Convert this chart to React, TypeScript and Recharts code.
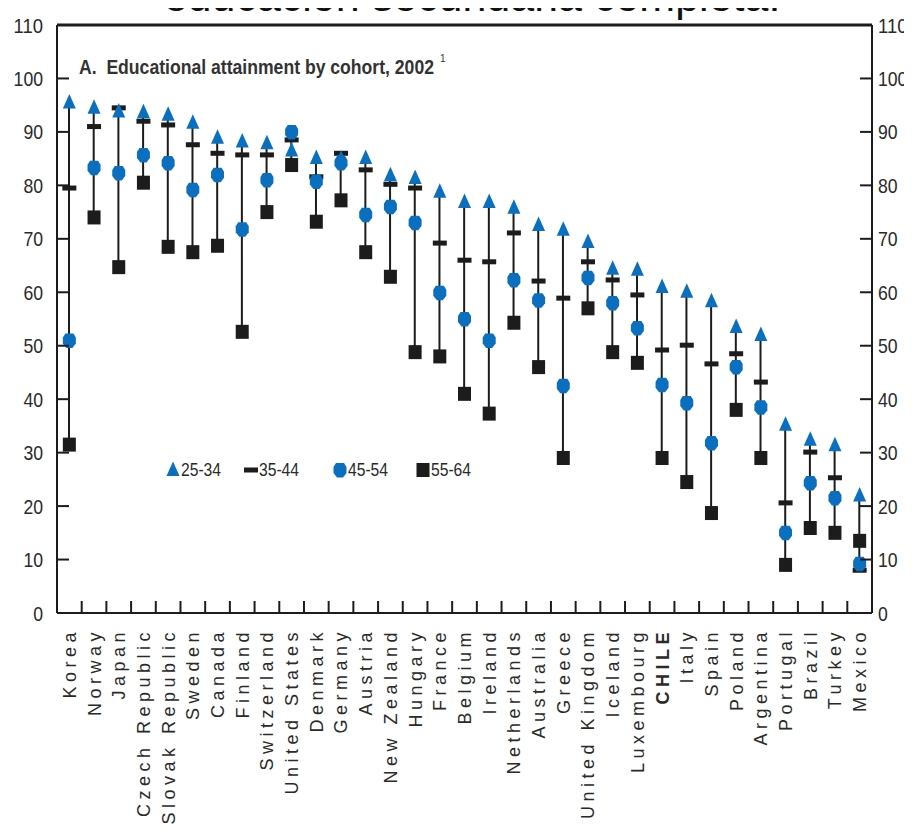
import {
  ComposedChart,
  XAxis,
  YAxis,
  Bar,
  Scatter,
  ReferenceLine,
  Customized,
} from "recharts";

const countries = [
  "Korea", "Norway", "Japan", "Czech Republic", "Slovak Republic", "Sweden",
  "Canada", "Finland", "Switzerland", "United States", "Denmark", "Germany",
  "Austria", "New Zealand", "Hungary", "France", "Belgium", "Ireland",
  "Netherlands", "Australia", "Greece", "United Kingdom", "Iceland",
  "Luxembourg", "CHILE", "Italy", "Spain", "Poland", "Argentina", "Portugal",
  "Brazil", "Turkey", "Mexico",
];
// 25-34
const s25 = [
  95.5, 94.5, 93.8, 93.7, 93.2, 91.7, 88.9, 88.2, 87.9, 86.5, 85.1, 85,
  85.1, 81.9, 81.4, 78.8, 76.9, 76.9, 75.8, 72.6, 71.7, 69.4, 64.4, 64.2,
  61, 60.1, 58.3, 53.5, 52, 35.2, 32.4, 31.4, 22,
];
// 35-44
const s35 = [
  79.5, 91, 94.5, 92, 91.3, 87.6, 86, 85.7, 85.7, 88.5, 81.6, 86, 82.9,
  80.2, 79.5, 69.2, 66, 65.7, 71.1, 62.1, 58.9, 65.7, 62.3, 59.5, 49.2,
  50.1, 46.6, 48.5, 43.2, 20.6, 30.1, 25.3, 8,
];
// 45-54
const s45 = [
  51, 83.3, 82.3, 85.7, 84.2, 79.2, 82, 71.8, 81, 90, 80.7, 84.2, 74.5, 76,
  73, 59.9, 55, 51, 62.3, 58.5, 42.5, 62.7, 58, 53.3, 42.7, 39.3, 31.8, 46,
  38.5, 15, 24.3, 21.5, 9.2,
];
// 55-64
const s55 = [
  31.5, 74, 64.7, 80.5, 68.5, 67.5, 68.7, 52.6, 75, 83.8, 73.2, 77.2, 67.5,
  62.9, 48.8, 48, 41, 37.3, 54.3, 46, 29, 57, 48.8, 46.8, 29, 24.5, 18.7,
  38, 29, 9, 15.9, 15, 13.5,
];
const yTicks = [0, 10, 20, 30, 40, 50, 60, 70, 80, 90, 100, 110];
const cohorts = ["25-34", "35-44", "45-54", "55-64"];

const data = countries.map((name, i) => {
  const vals = [s25[i], s35[i], s45[i], s55[i]];
  return {
    name,
    s25: s25[i],
    s35: s35[i],
    s45: s45[i],
    s55: s55[i],
    range: [Math.min(...vals), Math.max(...vals)],
  };
});

const BLUE = "#0b6fc0";
const BLACK = "#1c1c1c";
const SANS = "'Liberation Sans', Arial, sans-serif";

const W = 912;
const H = 835;
const PLOT_L = 57;
const PLOT_R = 872;
const HALF_BAND = (PLOT_R - PLOT_L) / countries.length / 2;
const DIGIT_W = 9.8; // squeezed digit width, the source font is a narrow one

const Tri = ({ cx, cy }: any) => (
  <path d={`M${cx},${cy - 8.5} L${cx + 6.5},${cy + 6} L${cx - 6.5},${cy + 6} Z`} fill={BLUE} />
);
const Dash = ({ cx, cy }: any) => (
  <rect x={cx - 7} y={cy - 2.5} width={14} height={5} fill={BLACK} />
);
const Shield = ({ cx, cy }: any) => (
  <path
    d={`M${cx - 4},${cy - 7} L${cx + 4},${cy - 7} L${cx + 6.5},${cy - 3} L${cx + 6.5},${cy + 3} L${cx + 3},${cy + 7.5} L${cx - 3},${cy + 7.5} L${cx - 6.5},${cy + 3} L${cx - 6.5},${cy - 3} Z`}
    fill={BLUE}
  />
);
const Sq = ({ cx, cy }: any) => (
  <rect x={cx - 6.5} y={cy - 7} width={13} height={14} fill={BLACK} />
);

const XTick = ({ x, y, payload, index }: any) => (
  <g>
    {index < countries.length - 1 && (
      <line x1={x + HALF_BAND} x2={x + HALF_BAND} y1={y} y2={y - 12} stroke={BLACK} strokeWidth={2} />
    )}
    <text
      x={x}
      y={y + 15}
      transform={`rotate(-90, ${x}, ${y + 15})`}
      textAnchor="end"
      dy="0.36em"
      fontFamily={SANS}
      fontSize={18}
      letterSpacing={4.5}
      fontWeight={payload.value === "CHILE" ? "bold" : "normal"}
      fill="#2a2a2a"
    >
      {payload.value}
    </text>
  </g>
);

const LeftTick = ({ x, y, payload }: any) => (
  <g>
    <line x1={x} x2={x + 12} y1={y} y2={y} stroke={BLACK} strokeWidth={2} />
    <text
      x={x - 14}
      y={y}
      dy="0.36em"
      textAnchor="end"
      fontFamily={SANS}
      fontSize={21}
      textLength={String(payload.value).length * DIGIT_W}
      lengthAdjust="spacingAndGlyphs"
      fill="#2a2a2a"
    >
      {payload.value}
    </text>
  </g>
);

const RightTick = ({ x, y, payload }: any) => (
  <g>
    <line x1={x - 12} x2={x} y1={y} y2={y} stroke={BLACK} strokeWidth={2} />
    <text
      x={x + 6}
      y={y}
      dy="0.36em"
      textAnchor="start"
      fontFamily={SANS}
      fontSize={21}
      textLength={String(payload.value).length * DIGIT_W}
      lengthAdjust="spacingAndGlyphs"
      fill="#2a2a2a"
    >
      {payload.value}
    </text>
  </g>
);

// legend, drawn inside the plot like the original
const legendIcons = [Tri, Dash, Shield, Sq];
const legendX = [173, 251, 340, 423];
const LEGEND_Y = 470;

const Overlay = () => (
  <g>
    <text x={472} y={11} textAnchor="middle" fontFamily={SANS} fontSize={43} fill="#111">
      educación secundaria completa:
    </text>
    <text
      x={79}
      y={74}
      fontFamily={SANS}
      fontWeight="bold"
      fontSize={20}
      textLength={355}
      lengthAdjust="spacingAndGlyphs"
      fill="#333"
    >
      A.{"\u00a0\u00a0"}Educational attainment by cohort, 2002
    </text>
    <text x={440} y={62} fontFamily={SANS} fontSize={10} fill="#333">
      1
    </text>
    {cohorts.map((c, i) => {
      const Icon = legendIcons[i];
      return (
        <g key={c}>
          <Icon cx={legendX[i]} cy={LEGEND_Y} />
          <text
            x={legendX[i] + 8}
            y={LEGEND_Y}
            dy="0.36em"
            fontFamily={SANS}
            fontSize={18}
            textLength={40}
            lengthAdjust="spacingAndGlyphs"
            fill="#2a2a2a"
          >
            {c}
          </text>
        </g>
      );
    })}
  </g>
);

export default function App() {
  return (
    <div style={{ marginLeft: -8, marginTop: -8, background: "#fff" }}>
      <ComposedChart
        width={W}
        height={H}
        data={data}
        margin={{ top: 25, right: 0, bottom: 0, left: 0 }}
      >
        <XAxis
          dataKey="name"
          interval={0}
          height={222}
          tickSize={0}
          tickMargin={0}
          tickLine={false}
          axisLine={{ stroke: BLACK, strokeWidth: 2 }}
          tick={<XTick />}
        />
        <YAxis
          yAxisId="left"
          domain={[0, 110]}
          ticks={yTicks}
          width={PLOT_L}
          tickSize={0}
          tickMargin={0}
          tickLine={false}
          axisLine={{ stroke: BLACK, strokeWidth: 2 }}
          tick={<LeftTick />}
          allowDataOverflow
        />
        <YAxis
          yAxisId="right"
          orientation="right"
          domain={[0, 110]}
          ticks={yTicks}
          width={W - PLOT_R}
          tickSize={0}
          tickMargin={0}
          tickLine={false}
          axisLine={{ stroke: BLACK, strokeWidth: 2 }}
          tick={<RightTick />}
          allowDataOverflow
        />
        <ReferenceLine yAxisId="left" y={110} stroke={BLACK} strokeWidth={3} />
        <Bar yAxisId="left" dataKey="range" barSize={2} fill={BLACK} isAnimationActive={false} />
        <Scatter yAxisId="left" dataKey="s55" shape={<Sq />} isAnimationActive={false} />
        <Scatter yAxisId="left" dataKey="s35" shape={<Dash />} isAnimationActive={false} />
        <Scatter yAxisId="left" dataKey="s45" shape={<Shield />} isAnimationActive={false} />
        <Scatter yAxisId="left" dataKey="s25" shape={<Tri />} isAnimationActive={false} />
        <Customized component={<Overlay />} />
      </ComposedChart>
    </div>
  );
}
